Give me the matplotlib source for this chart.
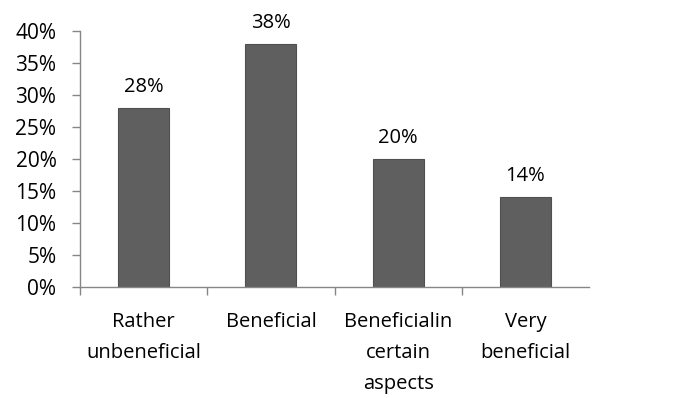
import matplotlib.pyplot as plt
from matplotlib.ticker import FixedLocator, PercentFormatter

categories = ['Rather\nunbeneficial', 'Beneficial', 'Beneficialin\ncertain\naspects', 'Very\nbeneficial']
values = [28, 38, 20, 14]
value_labels = ['28%', '38%', '20%', '14%']

plt.rcParams['font.family'] = ['Open Sans', 'DejaVu Sans']

fig = plt.figure(figsize=(6.96, 3.98), dpi=100)
ax = fig.add_axes([80 / 696, 1 - 287 / 398, (589 - 80) / 696, (287 - 31) / 398])

x = range(len(categories))
ax.bar(x, values, width=0.4, color='#5f5f5f', edgecolor='#505050', linewidth=0.8)

for xi, v, lab in zip(x, values, value_labels):
    ax.annotate(lab, (xi, v), xytext=(0, 8), textcoords='offset points',
                ha='center', va='bottom', fontsize=14.5, color='#000000')

ax.set_xlim(-0.5, len(categories) - 0.5)
ax.set_ylim(0, 40)
ax.set_yticks(range(0, 41, 5))
ax.yaxis.set_major_formatter(PercentFormatter(decimals=0))

ax.set_xticks(list(x))
ax.set_xticklabels(categories, fontsize=14.5, linespacing=1.75)
ax.tick_params(axis='x', length=0, pad=18)
ax.xaxis.set_minor_locator(FixedLocator([i - 0.5 for i in range(len(categories))]))
ax.tick_params(axis='x', which='minor', length=6, color='#868686', width=1)
ax.tick_params(axis='y', labelsize=15, length=6, color='#868686', width=1, pad=11)

for side in ['top', 'right']:
    ax.spines[side].set_visible(False)
for side in ['left', 'bottom']:
    ax.spines[side].set_color('#868686')
    ax.spines[side].set_linewidth(1)

fig.savefig('out.png', dpi=100)
